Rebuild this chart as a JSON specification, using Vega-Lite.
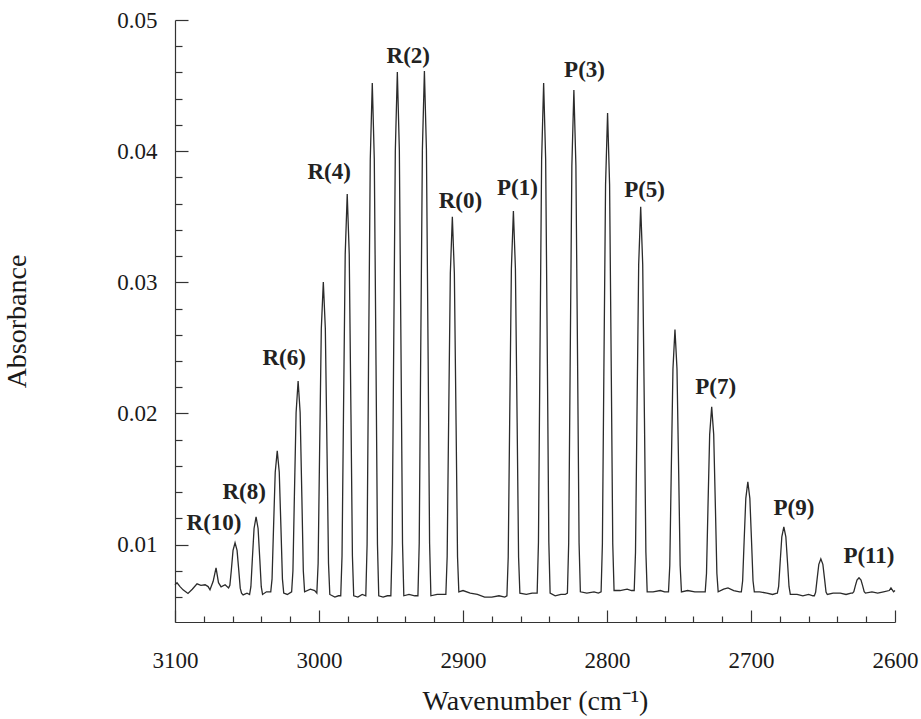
{
  "$schema": "https://vega.github.io/schema/vega-lite/v6.json",
  "width": 720,
  "height": 602,
  "autosize": "none",
  "padding": {"left": 175, "top": 20, "right": 26, "bottom": 97},
  "background": "white",
  "config": {"view": {"stroke": null}, "font": "Liberation Serif", "axis": {"labelOverlap": false, "labelBound": false}},
  "datasets": {
    "spectrum": [
      {"wn": 3100, "a": 0.00694}, {"wn": 3098.6, "a": 0.00709}, {"wn": 3096.5, "a": 0.0068}, {"wn": 3094.4, "a": 0.00655},
      {"wn": 3091, "a": 0.00628}, {"wn": 3088, "a": 0.0066}, {"wn": 3084.7, "a": 0.00701}, {"wn": 3082, "a": 0.0069},
      {"wn": 3079.1, "a": 0.00694}, {"wn": 3077, "a": 0.0068}, {"wn": 3075.7, "a": 0.00656}, {"wn": 3073.5, "a": 0.0072},
      {"wn": 3071.5, "a": 0.00823}, {"wn": 3069.8, "a": 0.0071}, {"wn": 3068, "a": 0.00678}, {"wn": 3065.2, "a": 0.00694},
      {"wn": 3062.8, "a": 0.0067}, {"wn": 3061.9, "a": 0.00690}, {"wn": 3060.9, "a": 0.00803}, {"wn": 3059.7, "a": 0.00956},
      {"wn": 3058.3, "a": 0.01014}, {"wn": 3056.9, "a": 0.00956}, {"wn": 3055.7, "a": 0.00803}, {"wn": 3054.7, "a": 0.00668},
      {"wn": 3053.8, "a": 0.0063}, {"wn": 3052.7, "a": 0.00617}, {"wn": 3050, "a": 0.0063},
      {"wn": 3048.2, "a": 0.0062}, {"wn": 3047.3, "a": 0.00679}, {"wn": 3046.3, "a": 0.00886}, {"wn": 3045.1, "a": 0.01123},
      {"wn": 3043.7, "a": 0.01212}, {"wn": 3042.3, "a": 0.01123}, {"wn": 3041.1, "a": 0.00886}, {"wn": 3040.1, "a": 0.00679},
      {"wn": 3039.2, "a": 0.0062}, {"wn": 3036.5, "a": 0.0064},
      {"wn": 3033.5, "a": 0.0064}, {"wn": 3032.6, "a": 0.00739}, {"wn": 3031.6, "a": 0.01118}, {"wn": 3030.4, "a": 0.01552},
      {"wn": 3029, "a": 0.01715}, {"wn": 3027.6, "a": 0.01552}, {"wn": 3026.4, "a": 0.01118}, {"wn": 3025.4, "a": 0.00739},
      {"wn": 3024.5, "a": 0.0063}, {"wn": 3022, "a": 0.0062},
      {"wn": 3019, "a": 0.0064}, {"wn": 3018.1, "a": 0.00801}, {"wn": 3017.1, "a": 0.01364}, {"wn": 3015.9, "a": 0.02007},
      {"wn": 3014.5, "a": 0.02248}, {"wn": 3013.1, "a": 0.02007}, {"wn": 3011.9, "a": 0.01364}, {"wn": 3010.9, "a": 0.00801},
      {"wn": 3010, "a": 0.0064}, {"wn": 3006, "a": 0.0066}, {"wn": 3003, "a": 0.0065},
      {"wn": 3001.5, "a": 0.0063}, {"wn": 3000.6, "a": 0.00858}, {"wn": 2999.6, "a": 0.01692}, {"wn": 2998.4, "a": 0.02646},
      {"wn": 2997, "a": 0.03003}, {"wn": 2995.6, "a": 0.02646}, {"wn": 2994.4, "a": 0.01692}, {"wn": 2993.4, "a": 0.00858},
      {"wn": 2992.5, "a": 0.0062}, {"wn": 2989, "a": 0.006}, {"wn": 2986.5, "a": 0.0061},
      {"wn": 2984.9, "a": 0.0061}, {"wn": 2984.0, "a": 0.00916}, {"wn": 2983.0, "a": 0.01989}, {"wn": 2981.8, "a": 0.03214},
      {"wn": 2980.4, "a": 0.03674}, {"wn": 2979.0, "a": 0.03214}, {"wn": 2977.8, "a": 0.01989}, {"wn": 2976.8, "a": 0.00916},
      {"wn": 2975.9, "a": 0.0061}, {"wn": 2973, "a": 0.006}, {"wn": 2970, "a": 0.0062},
      {"wn": 2967.5, "a": 0.0061}, {"wn": 2966.6, "a": 0.01001}, {"wn": 2965.6, "a": 0.0237}, {"wn": 2964.4, "a": 0.03934},
      {"wn": 2963, "a": 0.0452}, {"wn": 2961.6, "a": 0.03934}, {"wn": 2960.4, "a": 0.0237}, {"wn": 2959.4, "a": 0.01001},
      {"wn": 2958.5, "a": 0.0061}, {"wn": 2955.5, "a": 0.006}, {"wn": 2952.5, "a": 0.0061},
      {"wn": 2950.1, "a": 0.0061}, {"wn": 2949.2, "a": 0.01009}, {"wn": 2948.2, "a": 0.02407}, {"wn": 2947.0, "a": 0.04005},
      {"wn": 2945.6, "a": 0.04604}, {"wn": 2944.2, "a": 0.04005}, {"wn": 2943.0, "a": 0.02407}, {"wn": 2942.0, "a": 0.01009},
      {"wn": 2941.1, "a": 0.0061}, {"wn": 2937.5, "a": 0.0062}, {"wn": 2933.5, "a": 0.0061},
      {"wn": 2931.3, "a": 0.0061}, {"wn": 2930.4, "a": 0.0101}, {"wn": 2929.4, "a": 0.02411}, {"wn": 2928.2, "a": 0.04011},
      {"wn": 2926.8, "a": 0.04611}, {"wn": 2925.4, "a": 0.04011}, {"wn": 2924.2, "a": 0.02411}, {"wn": 2923.2, "a": 0.0101},
      {"wn": 2922.3, "a": 0.0061}, {"wn": 2918, "a": 0.0062}, {"wn": 2914, "a": 0.0062},
      {"wn": 2911.9, "a": 0.0062}, {"wn": 2911.0, "a": 0.00908}, {"wn": 2910.0, "a": 0.01916}, {"wn": 2908.8, "a": 0.03068},
      {"wn": 2907.4, "a": 0.035}, {"wn": 2906.0, "a": 0.03068}, {"wn": 2904.8, "a": 0.01916}, {"wn": 2903.8, "a": 0.00908},
      {"wn": 2902.9, "a": 0.0064}, {"wn": 2900, "a": 0.0065}, {"wn": 2895, "a": 0.0063}, {"wn": 2890, "a": 0.0062},
      {"wn": 2885, "a": 0.006}, {"wn": 2880, "a": 0.006}, {"wn": 2875, "a": 0.0061}, {"wn": 2871, "a": 0.006},
      {"wn": 2869.5, "a": 0.0061}, {"wn": 2868.6, "a": 0.00903}, {"wn": 2867.6, "a": 0.0193}, {"wn": 2866.4, "a": 0.03104},
      {"wn": 2865, "a": 0.03544}, {"wn": 2863.6, "a": 0.03104}, {"wn": 2862.4, "a": 0.0193}, {"wn": 2861.4, "a": 0.00903},
      {"wn": 2860.5, "a": 0.0063}, {"wn": 2856, "a": 0.0062}, {"wn": 2852, "a": 0.0063},
      {"wn": 2848.5, "a": 0.0063}, {"wn": 2847.6, "a": 0.01019}, {"wn": 2846.6, "a": 0.02381}, {"wn": 2845.4, "a": 0.03937},
      {"wn": 2844, "a": 0.0452}, {"wn": 2842.6, "a": 0.03937}, {"wn": 2841.4, "a": 0.02381}, {"wn": 2840.4, "a": 0.01019},
      {"wn": 2839.5, "a": 0.0063}, {"wn": 2836, "a": 0.0061}, {"wn": 2832, "a": 0.0062}, {"wn": 2829, "a": 0.0062},
      {"wn": 2827.5, "a": 0.0063}, {"wn": 2826.6, "a": 0.01014}, {"wn": 2825.6, "a": 0.02356}, {"wn": 2824.4, "a": 0.03891},
      {"wn": 2823, "a": 0.04466}, {"wn": 2821.6, "a": 0.03891}, {"wn": 2820.4, "a": 0.02356}, {"wn": 2819.4, "a": 0.01014},
      {"wn": 2818.5, "a": 0.0064}, {"wn": 2814, "a": 0.0063}, {"wn": 2809, "a": 0.0064}, {"wn": 2806, "a": 0.0063},
      {"wn": 2804.1, "a": 0.0064}, {"wn": 2803.2, "a": 0.01005}, {"wn": 2802.2, "a": 0.02283}, {"wn": 2801.0, "a": 0.03743},
      {"wn": 2799.6, "a": 0.04291}, {"wn": 2798.2, "a": 0.03743}, {"wn": 2797.0, "a": 0.02283}, {"wn": 2796.0, "a": 0.01005},
      {"wn": 2795.1, "a": 0.0065}, {"wn": 2791, "a": 0.0065}, {"wn": 2786, "a": 0.0066}, {"wn": 2783, "a": 0.0065},
      {"wn": 2781.1, "a": 0.0065}, {"wn": 2780.2, "a": 0.00943}, {"wn": 2779.2, "a": 0.01966}, {"wn": 2778.0, "a": 0.03136},
      {"wn": 2776.6, "a": 0.03575}, {"wn": 2775.2, "a": 0.03136}, {"wn": 2774.0, "a": 0.01966}, {"wn": 2773.0, "a": 0.00943},
      {"wn": 2772.1, "a": 0.0064}, {"wn": 2768, "a": 0.0064}, {"wn": 2763, "a": 0.0065}, {"wn": 2760, "a": 0.0064},
      {"wn": 2757.3, "a": 0.0064}, {"wn": 2756.4, "a": 0.0084}, {"wn": 2755.4, "a": 0.0154}, {"wn": 2754.2, "a": 0.0234},
      {"wn": 2752.8, "a": 0.0264}, {"wn": 2751.4, "a": 0.0234}, {"wn": 2750.2, "a": 0.0154}, {"wn": 2749.2, "a": 0.0084},
      {"wn": 2748.3, "a": 0.0064}, {"wn": 2744, "a": 0.0065}, {"wn": 2739, "a": 0.0064}, {"wn": 2735, "a": 0.0064},
      {"wn": 2731.8, "a": 0.0064}, {"wn": 2730.9, "a": 0.00781}, {"wn": 2729.9, "a": 0.01275}, {"wn": 2728.7, "a": 0.01839},
      {"wn": 2727.3, "a": 0.0205}, {"wn": 2725.9, "a": 0.01839}, {"wn": 2724.7, "a": 0.01275}, {"wn": 2723.7, "a": 0.00781},
      {"wn": 2722.8, "a": 0.0064}, {"wn": 2719, "a": 0.0066}, {"wn": 2716, "a": 0.0067}, {"wn": 2712, "a": 0.0065}, {"wn": 2708, "a": 0.0064},
      {"wn": 2706.7, "a": 0.0064}, {"wn": 2705.8, "a": 0.00724}, {"wn": 2704.8, "a": 0.01018}, {"wn": 2703.6, "a": 0.01353},
      {"wn": 2702.2, "a": 0.01479}, {"wn": 2700.8, "a": 0.01353}, {"wn": 2699.6, "a": 0.01018}, {"wn": 2698.6, "a": 0.00724},
      {"wn": 2697.7, "a": 0.0064}, {"wn": 2694, "a": 0.0064}, {"wn": 2689, "a": 0.0063}, {"wn": 2685, "a": 0.0062}, {"wn": 2682, "a": 0.0063},
      {"wn": 2681.7, "a": 0.0063}, {"wn": 2680.8, "a": 0.00681}, {"wn": 2679.8, "a": 0.00858}, {"wn": 2678.6, "a": 0.0106},
      {"wn": 2677.2, "a": 0.01136}, {"wn": 2675.8, "a": 0.0106}, {"wn": 2674.6, "a": 0.00858}, {"wn": 2673.6, "a": 0.00681},
      {"wn": 2672.7, "a": 0.0062}, {"wn": 2668, "a": 0.0062}, {"wn": 2664, "a": 0.0061}, {"wn": 2660, "a": 0.0062}, {"wn": 2657, "a": 0.0061},
      {"wn": 2656.0, "a": 0.0061}, {"wn": 2655.1, "a": 0.00638}, {"wn": 2654.1, "a": 0.00737}, {"wn": 2652.9, "a": 0.0085},
      {"wn": 2651.5, "a": 0.00892}, {"wn": 2650.1, "a": 0.0085}, {"wn": 2648.9, "a": 0.00737}, {"wn": 2647.9, "a": 0.00638},
      {"wn": 2647.0, "a": 0.0062}, {"wn": 2643, "a": 0.0063}, {"wn": 2638, "a": 0.0063}, {"wn": 2634, "a": 0.0062}, {"wn": 2630.5, "a": 0.0063},
      {"wn": 2629.5, "a": 0.0063}, {"wn": 2628.6, "a": 0.00642}, {"wn": 2627.6, "a": 0.00683}, {"wn": 2626.4, "a": 0.00729},
      {"wn": 2625, "a": 0.00747}, {"wn": 2623.6, "a": 0.00729}, {"wn": 2622.4, "a": 0.00683}, {"wn": 2621.4, "a": 0.00642},
      {"wn": 2620.5, "a": 0.0063}, {"wn": 2616, "a": 0.0064}, {"wn": 2612, "a": 0.0063}, {"wn": 2608, "a": 0.0064},
      {"wn": 2604, "a": 0.0065}, {"wn": 2602.8, "a": 0.0067}, {"wn": 2601, "a": 0.0064}, {"wn": 2600, "a": 0.0065}
    ],
    "labels": [
      {"wn": 3072.9, "a": 0.01166, "label": "R(10)"},
      {"wn": 3052.0, "a": 0.0140, "label": "R(8)"},
      {"wn": 3024.2, "a": 0.02424, "label": "R(6)"},
      {"wn": 2992.9, "a": 0.03841, "label": "R(4)"},
      {"wn": 2938.0, "a": 0.04726, "label": "R(2)"},
      {"wn": 2901.8, "a": 0.0362, "label": "R(0)"},
      {"wn": 2862.2, "a": 0.0372, "label": "P(1)"},
      {"wn": 2815.6, "a": 0.04619, "label": "P(3)"},
      {"wn": 2773.9, "a": 0.03704, "label": "P(5)"},
      {"wn": 2724.5, "a": 0.0220, "label": "P(7)"},
      {"wn": 2670.2, "a": 0.0128, "label": "P(9)"},
      {"wn": 2618.1, "a": 0.00915, "label": "P(11)"}
    ]
  },
  "layer": [
    {
      "data": {"name": "spectrum"},
      "mark": {"type": "line", "color": "#2b2b2b", "strokeWidth": 1.3},
      "encoding": {
        "x": {
          "field": "wn", "type": "quantitative",
          "scale": {"domain": [2600, 3100], "reverse": true, "nice": false, "zero": false},
          "axis": {
            "values": [2600, 2620, 2640, 2660, 2680, 2700, 2720, 2740, 2760, 2780, 2800, 2820, 2840, 2860, 2880, 2900, 2920, 2940, 2960, 2980, 3000, 3020, 3040, 3060, 3080, 3100],
            "tickCount": 200,
            "format": "d",
            "labelExpr": "datum.value % 100 == 0 ? datum.label : ''",
            "tickSize": {"condition": {"test": "datum.value % 100 == 0", "value": -12}, "value": -6},
            "tickColor": "#333", "tickWidth": 1.2,
            "domainColor": "#333", "domainWidth": 1.2,
            "grid": false,
            "labelFont": "Liberation Serif", "labelFontSize": 23, "labelColor": "#1a1a1a",
            "labelPadding": 39, "labelOverlap": false, "labelFlush": false, "labelSeparation": 0,
            "title": "Wavenumber (cm⁻¹)",
            "titleFont": "Liberation Serif", "titleFontSize": 28, "titleFontWeight": "normal", "titleColor": "#1a1a1a",
            "titlePadding": 9
          }
        },
        "y": {
          "field": "a", "type": "quantitative",
          "scale": {"domain": [0.0041, 0.05], "nice": false, "zero": false},
          "axis": {
            "values": [0.006, 0.008, 0.01, 0.012, 0.014, 0.016, 0.018, 0.02, 0.022, 0.024, 0.026, 0.028, 0.03, 0.032, 0.034, 0.036, 0.038, 0.04, 0.042, 0.044, 0.046, 0.048, 0.05],
            "tickCount": 200,
            "labelExpr": "abs(datum.value * 100 - round(datum.value * 100)) < 0.001 ? format(datum.value, '.2f') : ''",
            "tickSize": {"condition": {"test": "abs(datum.value * 100 - round(datum.value * 100)) < 0.001", "value": -13}, "value": -7},
            "tickColor": "#333", "tickWidth": 1.2,
            "domainColor": "#333", "domainWidth": 1.2,
            "grid": false,
            "labelFont": "Liberation Serif", "labelFontSize": 23, "labelColor": "#1a1a1a",
            "labelPadding": 31, "labelOverlap": false, "labelFlush": false, "labelSeparation": 0,
            "title": "Absorbance",
            "titleFont": "Liberation Serif", "titleFontSize": 28, "titleFontWeight": "normal", "titleColor": "#1a1a1a",
            "titlePadding": 85
          }
        }
      }
    },
    {
      "data": {"name": "labels"},
      "mark": {"type": "text", "font": "Liberation Serif", "fontWeight": "bold", "fontSize": 23, "color": "#222", "align": "center", "baseline": "middle"},
      "encoding": {
        "x": {"field": "wn", "type": "quantitative"},
        "y": {"field": "a", "type": "quantitative"},
        "text": {"field": "label"}
      }
    }
  ]
}
